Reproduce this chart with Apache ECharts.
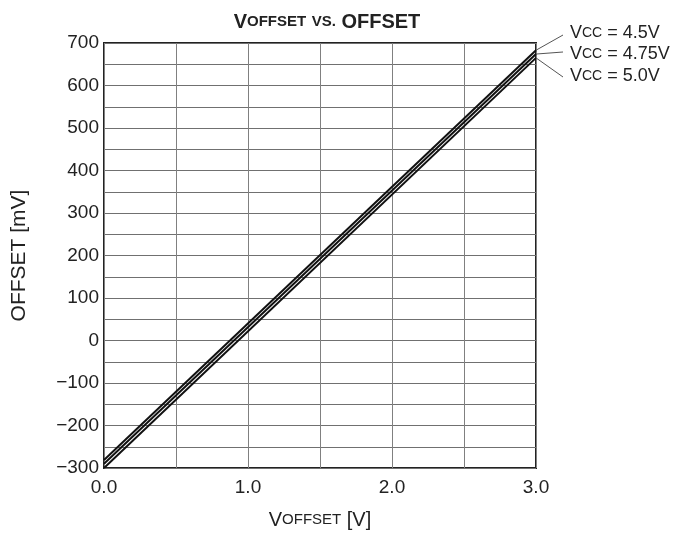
<!DOCTYPE html>
<html>
<head>
<meta charset="utf-8">
<script src="https://cdn.jsdelivr.net/npm/echarts@6/dist/echarts.min.js"></script>
<style>html,body{margin:0;padding:0;background:#fff;}#c{width:684px;height:535px;}</style>
</head>
<body>
<div id="c"></div>
<script>
// Data
const xVals = [0, 3];
const vcc45 = [-281, 683];
const vcc475 = [-290, 674];
const vcc50 = [-300, 665];
const seriesNames = ['VCC = 4.5V', 'VCC = 4.75V', 'VCC = 5.0V'];
const seriesVals = [vcc45, vcc475, vcc50];
const labelTexts = ['4.5V', '4.75V', '5.0V'];
const labelY = [31, 52, 74];

const FONT = '"Liberation Sans", Arial, Helvetica, sans-serif';
const TXT = '#222';

const chart = echarts.init(document.getElementById('c'), null, {renderer: 'canvas'});

const option = {
  backgroundColor: '#fff',
  animation: false,
  title: {
    text: '{b|V}{s|OFFSET}{b| }{s|VS.}{b| OFFSET}',
    left: 322,
    top: 7,
    textAlign: 'center',
    textStyle: {
      rich: {
        b: {fontSize: 20, fontWeight: 'bold', fontFamily: FONT, color: TXT},
        s: {fontSize: 15, fontWeight: 'bold', fontFamily: FONT, color: TXT}
      }
    }
  },
  grid: {
    left: 104, right: 148, top: 43, bottom: 65,
    show: true, borderColor: '#222', borderWidth: 2, backgroundColor: 'transparent'
  },
  xAxis: {
    type: 'value', min: 0, max: 3, interval: 0.5,
    axisLine: {show: false}, axisTick: {show: false},
    splitLine: {show: true, lineStyle: {color: '#808080', width: 1}},
    axisLabel: {
      margin: 10, fontSize: 19, fontFamily: FONT, color: TXT,
      formatter: v => (Math.abs(v - Math.round(v)) < 1e-9 ? v.toFixed(1) : '')
    },
    name: '{b|V}{s|OFFSET}{b| [V]}',
    nameLocation: 'middle', nameGap: 42,
    nameTextStyle: {
      rich: {
        b: {fontSize: 20, fontFamily: FONT, color: TXT},
        s: {fontSize: 15, fontFamily: FONT, color: TXT}
      }
    }
  },
  yAxis: {
    type: 'value', min: -300, max: 700, interval: 50,
    axisLine: {show: false}, axisTick: {show: false},
    splitLine: {show: true, lineStyle: {color: '#707070', width: 1}},
    axisLabel: {
      margin: 5, fontSize: 19, fontFamily: FONT, color: TXT,
      formatter: v => (v % 100 === 0 ? String(v).replace('-', '\u2212') : '')
    },
    name: 'OFFSET [mV]',
    nameLocation: 'middle', nameGap: 74, nameRotate: 90,
    nameTextStyle: {fontSize: 21, fontFamily: FONT, color: TXT}
  },
  series: seriesVals.map((vals, i) => ({
    type: 'line',
    name: seriesNames[i],
    data: xVals.map((x, j) => [x, vals[j]]),
    showSymbol: false,
    symbol: 'none',
    clip: true,
    lineStyle: {color: '#111', width: 2},
    z: 5
  }))
};
chart.setOption(option);

// Leader lines and labels
const graphics = [];
seriesVals.forEach((vals, i) => {
  const p = chart.convertToPixel({gridIndex: 0}, [xVals[xVals.length - 1], vals[vals.length - 1]]);
  const endY = [35, 52, 77][i];
  graphics.push({
    type: 'line',
    shape: {x1: p[0], y1: p[1], x2: 563, y2: endY},
    style: {stroke: '#555', lineWidth: 1},
    z: 10
  });
  graphics.push({
    type: 'text',
    left: 570,
    top: labelY[i] - 7,
    style: {
      text: '{b|V}{s|CC}{b| = ' + labelTexts[i] + '}',
      rich: {
        b: {fontSize: 18, fontFamily: FONT, fill: TXT},
        s: {fontSize: 14, fontFamily: FONT, fill: TXT}
      }
    },
    z: 10
  });
});
chart.setOption({graphic: graphics});
</script>
</body>
</html>
